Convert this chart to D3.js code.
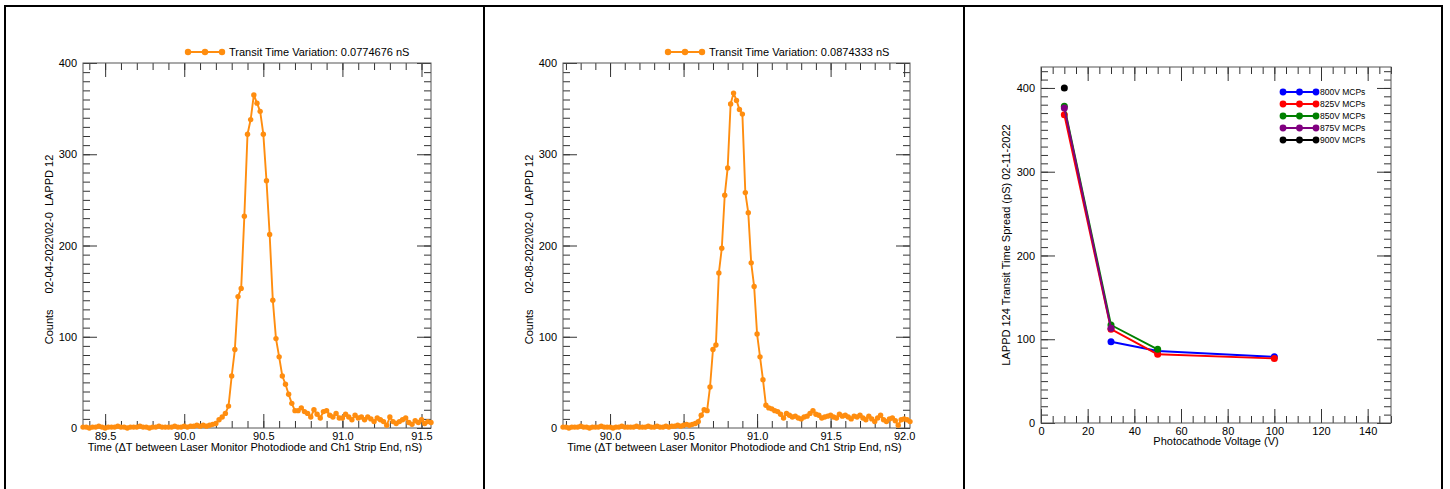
<!DOCTYPE html>
<html>
<head>
	<meta charset="utf-8">
	<title></title>
	<style>
		body { margin: 0; background: #fff; }
		svg { font-family: "Liberation Sans", Arial, sans-serif; font-size: 11px; }
		.trace { fill: none; stroke-width: 1.9; stroke-linejoin: round; }
		.frame { fill: none; stroke: #555; stroke-width: 1; }
		.tick line { stroke: #333; }
		.border { stroke: #000; stroke-width: 2; }
	</style>
</head>
<body>
	<svg id="container" width="1450" height="489"></svg>
</body>
<script src="https://d3js.org/d3.v7.min.js"></script>
<script>
	// histograms: counts in 0.02 nS bins
	let binStep = 0.02
	let startA = 89.36
	let countsA = [
		1,1,0,1,1,2,1,0,1,1, 1,2,1,1,0,1,1,1,2,1, 1,0,1,1,2,1,1,1,1,2, 1,1,2,1,2,2,3,2,3,2, 3,4,5,
		9,12,16,24,57,86,144,153,232,322,338,365,356,347,322,271,212,140,98,78,57,48,37,27,19,19,
		22,18,16,12,20,15,11,18,19,14, 12,16,11,11,15,12,9,14,11,12, 9,12,10,7,11,9,7,3,12,7, 5,7,9,11,6,4,8,6,9,5, 7,6
	]
	let startB = 89.68
	let countsB = [
		1,1,0,1,1,1,2,1,1,0, 1,1,1,2,1,1,1,0,1,1, 2,1,1,1,1,2,1,1,1,2, 1,1,2,1,1,2,1,2,2,3, 2,3,4,3,4,5,
		7,14,20,19,45,86,91,170,197,255,285,355,367,359,349,344,258,236,181,155,103,78,53,25,22,
		21,19,18,15,11,16,14,12,13,11, 10,12,13,16,19,15,14,11,12,13, 14,12,11,15,13,14,12,10,13,12, 14,11,9,13,10,7,11,14,9,7, 10,11,8,3,9,10,9,7
	]
	let xTicksA = [89.5, 90.0, 90.5, 91.0, 91.5]
	let xTicksB = [90.0, 90.5, 91.0, 91.5, 92.0]
	let countTicks = [0, 100, 200, 300, 400]
	let legendA = "Transit Time Variation: 0.0774676 nS"
	let legendB = "Transit Time Variation: 0.0874333 nS"
	let dateA = "02-04-2022\\02-0"
	let dateB = "02-08-2022\\02-0"
	let orange = "#ff8d0f"

	// transit time spread vs photocathode voltage
	let seriesNames = ["800V MCPs", "825V MCPs", "850V MCPs", "875V MCPs", "900V MCPs"]
	let seriesColors = ["#0000ff", "#ff0000", "#008000", "#800080", "#000000"]
	let volts800 = [30, 50, 100], tts800 = [97, 86, 79]
	let volts825 = [10, 30, 50, 100], tts825 = [368, 112, 82, 77]
	let volts850 = [10, 30, 50], tts850 = [378, 117, 88]
	let volts875 = [10, 30], tts875 = [376, 113]
	let volts900 = [10], tts900 = [400]
	let voltTicks = [0, 20, 40, 60, 80, 100, 120, 140]
	let ttsTicks = [0, 100, 200, 300, 400]

	let svg = d3.select("#container")

	// table borders
	svg.append("line").attr("class", "border").attr("x1", 4).attr("x2", 1443).attr("y1", 6).attr("y2", 6)
	;[5, 484, 964, 1442].forEach(x => {
		svg.append("line").attr("class", "border").attr("x1", x).attr("x2", x).attr("y1", 5).attr("y2", 489)
	})

	function minorRange(lo, hi, step) {
		return d3.range(Math.ceil(lo / step - 1e-9), Math.floor(hi / step + 1e-9) + 1).map(i => +(i * step).toFixed(6))
	}

	function clean(sel) {
		sel.select(".domain").remove()
		sel.attr("font-size", null).attr("font-family", null)
	}

	// frame with inward ticks on all four sides, labels left and bottom
	function drawFrame(g, x, y, w, h, o) {
		let xMinor = minorRange(x.domain()[0], x.domain()[1], o.xMinorStep)
		let yMinor = minorRange(y.domain()[0], y.domain()[1], o.yMinorStep)

		g.append("g").attr("transform", `translate(0,${h})`)
			.call(d3.axisBottom(x).tickValues(xMinor).tickSize(-7).tickFormat(""))
			.call(clean)
		g.append("g").attr("transform", `translate(0,${h})`)
			.call(d3.axisBottom(x).tickValues(o.xTicks).tickSize(-14).tickPadding(4).tickFormat(o.xFormat))
			.call(clean)
		g.append("g")
			.call(d3.axisTop(x).tickValues(xMinor).tickSize(-7).tickFormat(""))
			.call(clean)
		g.append("g")
			.call(d3.axisTop(x).tickValues(o.xTicks).tickSize(-14).tickFormat(""))
			.call(clean)

		g.append("g")
			.call(d3.axisLeft(y).tickValues(yMinor).tickSize(-7).tickFormat(""))
			.call(clean)
		g.append("g")
			.call(d3.axisLeft(y).tickValues(o.yTicks).tickSize(-14).tickPadding(6))
			.call(clean)
		g.append("g").attr("transform", `translate(${w},0)`)
			.call(d3.axisRight(y).tickValues(yMinor).tickSize(-7).tickFormat(""))
			.call(clean)
		g.append("g").attr("transform", `translate(${w},0)`)
			.call(d3.axisRight(y).tickValues(o.yTicks).tickSize(-14).tickFormat(""))
			.call(clean)

		g.append("rect").attr("class", "frame").attr("width", w).attr("height", h)
	}

	function drawHistogram(box, start, counts, xTicks, legendText, dateText) {
		let w = box.right - box.left
		let h = box.bottom - box.top
		let data = counts.map((c, i) => ({ t: start + i * binStep, c: c }))

		let x = d3.scaleLinear().domain(d3.extent(data, d => d.t)).range([0, w])
		let y = d3.scaleLinear().domain([0, 400]).range([h, 0])

		let g = svg.append("g").attr("transform", `translate(${box.left},${box.top})`)
		drawFrame(g, x, y, w, h, {
			xTicks: xTicks, xMinorStep: 0.1, xFormat: d3.format(".1f"),
			yTicks: countTicks, yMinorStep: 10
		})

		let line = d3.line().x(d => x(d.t)).y(d => y(d.c))
		g.append("path").datum(data).attr("class", "trace").attr("stroke", orange).attr("d", line)
		g.selectAll(".dot").data(data).enter().append("circle")
			.attr("cx", d => x(d.t)).attr("cy", d => y(d.c)).attr("r", 2.7).attr("fill", orange)

		// legend above the frame
		let lg = g.append("g").attr("transform", "translate(105,-11)")
		lg.append("line").attr("x1", 0).attr("x2", 34).attr("stroke", orange).attr("stroke-width", 1.9)
		lg.selectAll("circle").data([0, 17, 34]).enter().append("circle")
			.attr("cx", d => d).attr("r", 3.2).attr("fill", orange)
		lg.append("text").attr("x", 41).attr("y", 4).text(legendText)

		g.append("text").attr("x", w / 2 - 2).attr("y", h + 23).attr("text-anchor", "middle")
			.text("Time (\u0394T between Laser Monitor Photodiode and Ch1 Strip End, nS)")

		let yt = g.append("text").attr("text-anchor", "middle")
			.attr("transform", `translate(-30.5,${h / 2 + 4}) rotate(-90)`)
		yt.append("tspan").text("Counts")
		yt.append("tspan").attr("dx", 16).text(dateText)
		yt.append("tspan").attr("dx", 6).text("LAPPD 12")
	}

	drawHistogram({ left: 83, right: 431, top: 63, bottom: 428 }, startA, countsA, xTicksA, legendA, dateA)
	drawHistogram({ left: 563, right: 910, top: 63, bottom: 428 }, startB, countsB, xTicksB, legendB, dateB)

	// third panel
	let box3 = { left: 1041, right: 1391, top: 67, bottom: 423 }
	let w3 = box3.right - box3.left
	let h3 = box3.bottom - box3.top
	let x3 = d3.scaleLinear().domain([0, 150]).range([0, w3])
	let y3 = d3.scaleLinear().domain([0, 425]).range([h3, 0])
	let g3 = svg.append("g").attr("transform", `translate(${box3.left},${box3.top})`)
	drawFrame(g3, x3, y3, w3, h3, {
		xTicks: voltTicks, xMinorStep: 5, xFormat: d3.format("d"),
		yTicks: ttsTicks, yMinorStep: 10
	})

	let series = [
		{ volts: volts800, tts: tts800 },
		{ volts: volts825, tts: tts825 },
		{ volts: volts850, tts: tts850 },
		{ volts: volts875, tts: tts875 },
		{ volts: volts900, tts: tts900 }
	].map((s, i) => ({
		name: seriesNames[i],
		color: seriesColors[i],
		points: s.volts.map((v, j) => ({ v: v, tts: s.tts[j] }))
	}))

	let line3 = d3.line().x(d => x3(d.v)).y(d => y3(d.tts))
	series.forEach(s => {
		g3.append("path").datum(s.points).attr("class", "trace").attr("stroke", s.color).attr("d", line3)
		g3.selectAll(null).data(s.points).enter().append("circle")
			.attr("cx", d => x3(d.v)).attr("cy", d => y3(d.tts)).attr("r", 3.5).attr("fill", s.color)
	})

	let leg3 = g3.selectAll(".leg").data(series).enter().append("g")
		.attr("transform", (d, i) => `translate(242,${25 + i * 12})`)
	leg3.append("line").attr("x1", 0).attr("x2", 33).attr("stroke", d => d.color).attr("stroke-width", 1.9)
	leg3.each(function (d) {
		d3.select(this).selectAll("circle").data([0, 16.5, 33]).enter().append("circle")
			.attr("cx", c => c).attr("r", 3.4).attr("fill", d.color)
	})
	leg3.append("text").attr("x", 37).attr("y", 3).attr("font-size", 8.5).text(d => d.name)

	g3.append("text").attr("x", w3 / 2).attr("y", h3 + 22).attr("text-anchor", "middle")
		.text("Photocathode Voltage (V)")
	g3.append("text").attr("text-anchor", "middle")
		.attr("transform", `translate(-31.5,${h3 / 2}) rotate(-90)`)
		.text("LAPPD 124 Transit Time Spread (pS) 02-11-2022")
</script>
</html>
